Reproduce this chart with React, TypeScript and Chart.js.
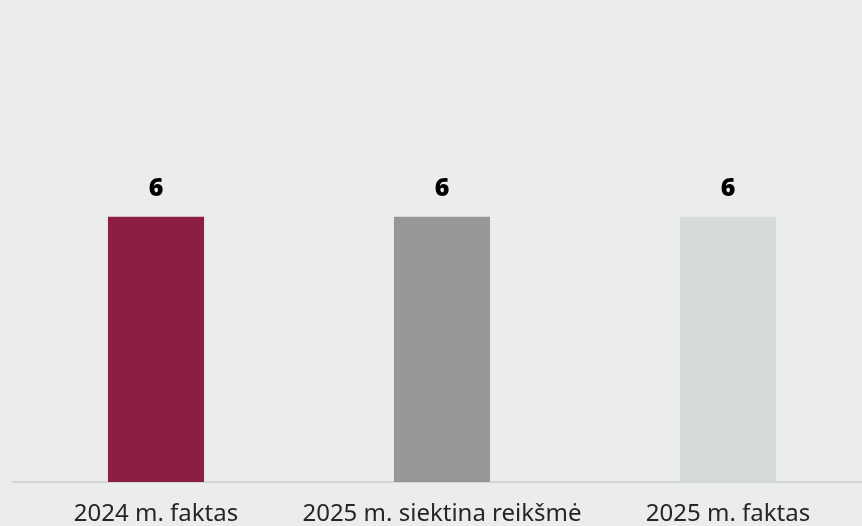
import React, { useEffect, useRef } from "react";
import { Chart, registerables } from "chart.js";

Chart.register(...registerables);

const categories = ["2024 m. faktas", "2025 m. siektina reikšmė", "2025 m. faktas"];
const values = [6, 6, 6];
const barColors = ["#8B1E41", "#969898", "#D7DADB"];

const valueLabels = {
  id: "valueLabels",
  afterDatasetsDraw(chart: any) {
    const ctx = chart.ctx;
    const meta = chart.getDatasetMeta(0);
    ctx.save();
    ctx.font = "900 25px 'Noto Sans', sans-serif";
    ctx.fillStyle = "#000000";
    ctx.textAlign = "center";
    ctx.textBaseline = "middle";
    meta.data.forEach((bar: any, i: number) => {
      ctx.fillText(String(values[i]), bar.x, bar.y - 28);
    });
    ctx.restore();
  },
};

export default function App() {
  const ref = useRef<HTMLCanvasElement>(null);
  useEffect(() => {
    document.body.style.margin = "0";
    document.body.style.background = "#EBECEE";
    document.body.style.overflow = "hidden";
    const chart = new Chart(ref.current!, {
      type: "bar",
      data: {
        labels: categories,
        datasets: [
          {
            data: values,
            backgroundColor: barColors,
            barPercentage: 0.336,
            categoryPercentage: 1,
          },
        ],
      },
      options: {
        animation: false,
        responsive: false,
        layout: { padding: { top: 40, left: 13, right: 9, bottom: 0 } },
        plugins: { legend: { display: false }, tooltip: { enabled: false } },
        scales: {
          y: {
            display: false,
            min: 0,
            max: 10,
          },
          x: {
            grid: { display: false, drawTicks: false },
            border: { display: true, color: "#D3D5D7", width: 2 },
            afterFit: (scale: any) => {
              scale.height = 44;
            },
            ticks: {
              padding: 18,
              color: "#262626",
              font: { family: "'Noto Sans', sans-serif", size: 24 },
              maxRotation: 0,
            },
          },
        },
      },
      plugins: [valueLabels],
    });
    return () => chart.destroy();
  }, []);
  return (
    <div style={{ width: 880, height: 526, position: "relative" }}>
      <canvas ref={ref} width={880} height={526} style={{ display: "block" }} />
    </div>
  );
}
